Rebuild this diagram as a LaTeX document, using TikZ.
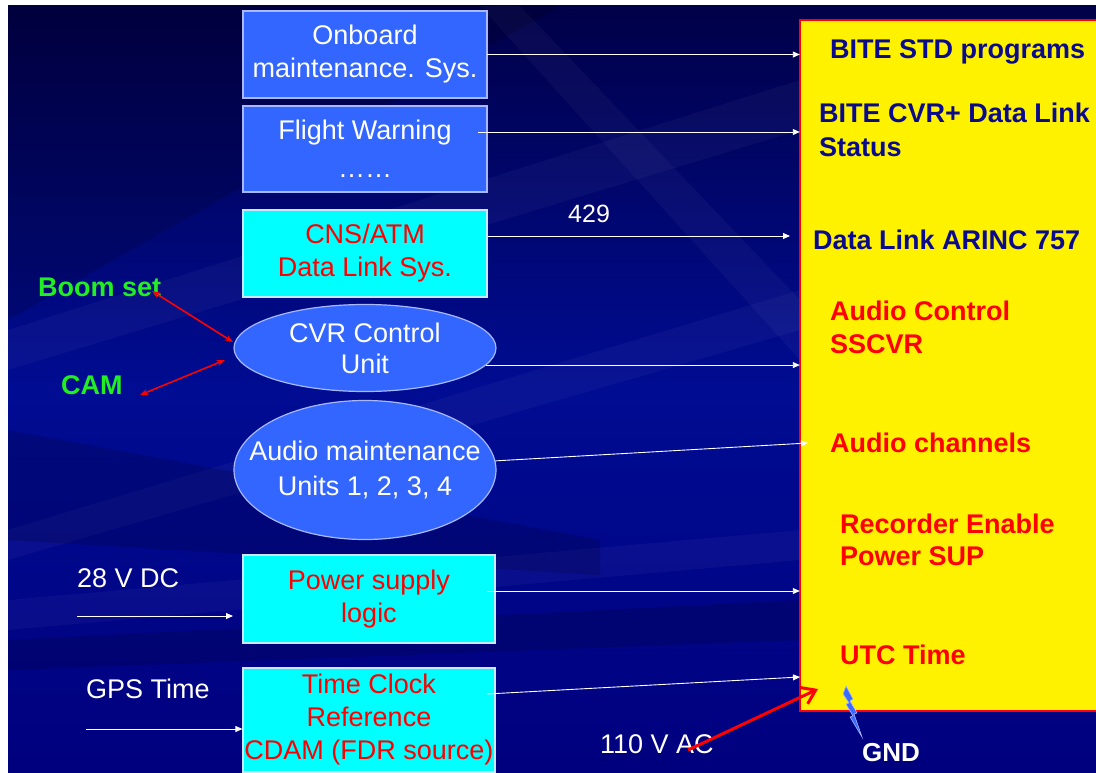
\documentclass[tikz,border=0pt]{standalone}
\usepackage{fontspec}
\setmainfont{Liberation Sans}
\usetikzlibrary{shapes.geometric,arrows.meta}
\definecolor{bgtop}{HTML}{000048}
\definecolor{bgmid}{HTML}{000C92}
\definecolor{bgbot}{HTML}{00007E}
\definecolor{boxblue}{HTML}{3366FF}
\definecolor{boxedge}{HTML}{A8B8FF}
\definecolor{cyanfill}{HTML}{00FFFF}
\definecolor{cyanedge}{HTML}{C8E8FF}
\definecolor{navytxt}{HTML}{0A0A8C}
\definecolor{grntxt}{HTML}{22EE22}
\definecolor{boltblue}{HTML}{3A6BFF}
\tikzset{
  base/.style={font=\fontsize{27}{33}\selectfont, inner sep=0pt, align=center},
  bluebox/.style={base, rectangle, fill=boxblue, draw=boxedge, line width=1.2pt, text=white, minimum width=244pt, minimum height=87pt},
  cyanbox/.style={base, rectangle, fill=cyanfill, draw=cyanedge, line width=1.2pt, text=red, minimum width=252pt, minimum height=88pt},
  blueell/.style={base, ellipse, fill=boxblue, draw=boxedge, line width=1.2pt, text=white, minimum width=262pt, minimum height=87pt},
  wire/.style={draw=white, line width=0.9pt, -{Triangle[length=7pt,width=6pt]}},
  redwire/.style={draw=red, line width=1.6pt, {Stealth[length=8pt,width=6pt]}-{Stealth[length=8pt,width=6pt]}},
  rectxt/.style={inner sep=0pt, font=\bfseries\fontsize{27}{33}\selectfont, anchor=west, align=left},
  navyt/.style={rectxt, text=navytxt},
  redt/.style={rectxt, text=red},
  lbl/.style={base, anchor=west, text=white},
  grn/.style={inner sep=0pt, font=\bfseries\fontsize{27}{33}\selectfont, anchor=west, text=grntxt},
  streak/.style={white, opacity=0.035},
  shadeband/.style={black, opacity=0.14},
}
\begin{document}
\begin{tikzpicture}[x=1pt,y=-1pt]
\useasboundingbox (0,0) rectangle (1096,773);
% background
\fill[white] (0,0) rectangle (1096,773);
\shade[top color=bgtop, bottom color=bgbot, middle color=bgmid] (8,6) rectangle (1096,773);
\fill[streak] (8,330) -- (8,370) -- (800,130) -- (800,80) -- cycle;
\fill[streak] (8,530) -- (8,560) -- (800,330) -- (800,290) -- cycle;
\fill[streak] (480,6) -- (520,6) -- (800,300) -- (800,360) -- cycle;
\fill[streak] (8,600) -- (8,630) -- (800,560) -- (800,530) -- cycle;
\fill[shadeband] (8,6) -- (560,6) -- (8,320) -- cycle;
\fill[shadeband] (8,430) -- (600,540) -- (600,575) -- (8,540) -- cycle;
\fill[shadeband] (8,640) -- (800,600) -- (800,640) -- (8,670) -- cycle;

% recorder box (runs off the right edge)
\fill[yellow] (800,20) rectangle (1096,711);
\draw[red, line width=2pt] (1096,20) -- (800,20) -- (800,711) -- (1096,711);
\node[inner sep=0pt, minimum width=0pt, minimum height=691pt, anchor=north] (rec) at (800,20) {};

% left column
\node[bluebox] (onb) at (365,54.5) {Onboard\\maintenance. Sys.};
\node[bluebox, minimum height=86pt] (fw) at (365,149) {Flight Warning\\[5pt]……};
\node[cyanbox, minimum width=244pt, minimum height=87pt] (cns) at (365,253.5) {CNS/ATM\\Data Link Sys.};
\node[blueell, font=\fontsize{27}{31}\selectfont] (cvr) at (365,348) {CVR Control\\Unit};
\node[blueell, minimum height=139pt, inner xsep=-26pt, font=\fontsize{27}{35}\selectfont] (aud) at (365,470) {Audio maintenance\\Units 1, 2, 3, 4};
\node[cyanbox] (psl) at (369,599) {Power supply\\logic};
\node[cyanbox, minimum height=104pt] (tcr) at (369,720) {Time Clock\\Reference\\CDAM (FDR source)};

% texts in recorder
\node[navyt] (t1) at (830,52) {BITE STD programs};
\node[navyt, font=\bfseries\fontsize{27}{34}\selectfont] (t2) at (819,130) {BITE CVR+ Data Link\\Status};
\node[navyt] (t3) at (813,240) {Data Link ARINC 757};
\node[redt] (t4) at (830,327) {Audio Control\\SSCVR};
\node[redt] (t5) at (830,443) {Audio channels};
\node[redt, font=\bfseries\fontsize{27}{32}\selectfont] (t6) at (840,540) {Recorder Enable\\Power SUP};
\node[redt] (t7) at (840,655) {UTC Time};

% outside labels
\node[grn] (boom) at (38,287) {Boom set};
\node[grn] (cam) at (61,385) {CAM};
\node[lbl] (v28) at (77,578) {28 V DC};
\node[lbl] (gps) at (86,689) {GPS Time};
\node[lbl, font=\fontsize{25}{30}\selectfont] (n429) at (568,214) {429};
\node[lbl] (vac) at (600,744) {110 V AC};
\node[inner sep=0pt, anchor=west, text=white, font=\bfseries\fontsize{26}{30}\selectfont] (gnd) at (862,753) {GND};

% connector end points
\coordinate (fwo) at (478,132);
\coordinate (inCNS) at (790,236);
\coordinate (inAud) at (808,443);
\coordinate (outPS) at (487,591);
\coordinate (outTC) at (487,694);
\coordinate (inTC) at (800,677);
\coordinate (dcS) at (77,616);
\coordinate (dcE) at (233,616);
\coordinate (gpsS) at (86,729);
\coordinate (bm1) at (152,291);
\coordinate (bm2) at (233,342);
\coordinate (cm1) at (140,395);
\coordinate (cm2) at (225,360);
\coordinate (ac1) at (688,750);
\coordinate (ac2) at (818,689);

% white connectors
\draw[wire] ([xshift=-1pt]onb.east) -- (onb.east -| rec.west);
\draw[wire] (fwo) -- (fwo -| rec.west);
\draw[wire] (cns.east |- inCNS) -- (inCNS);
\draw[wire] (cvr.-8) -- (cvr.-8 -| rec.west);
\draw[wire] (aud.4) -- (inAud);
\draw[wire] (outPS) -- (outPS -| rec.west);
\draw[wire] (outTC) -- (inTC);
\draw[wire] (dcS) -- (dcE);
\draw[wire] (gpsS) -- (gpsS -| tcr.west);

% red connectors
\draw[redwire] (bm1) -- (bm2);
\draw[redwire] (cm1) -- (cm2);
\draw[draw=red, line width=3pt, -{Straight Barb[length=13pt,width=18pt,line width=3pt]}] (ac1) -- (ac2);

% ground bolt
\filldraw[fill=boltblue, draw=boxedge, line width=0.6pt]
  (846,686) -- (853,699) -- (850,701) -- (857,713) -- (854,714) -- (862,737)
  -- (850,717) -- (853,716) -- (846,704) -- (849,703) -- (843,694) -- cycle;

% keep the recorder open at the right page edge
\fill[yellow] (1091,21) rectangle (1096,710);
\end{tikzpicture}
\end{document}
